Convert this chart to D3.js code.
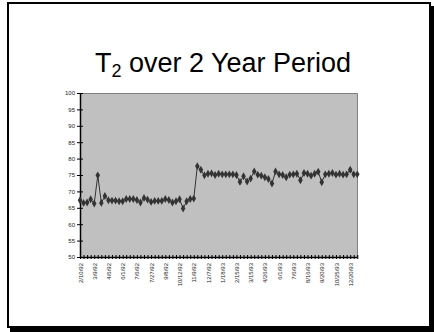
<!DOCTYPE html>
<html>
<head>
<meta charset="utf-8">
<script src="https://cdn.jsdelivr.net/npm/d3@7"></script>
<style>
  body { margin: 0; background: #fff; }
  svg { display: block; }
  .title { font-family: "Liberation Sans", Arial, sans-serif; fill: #000; }
  .tick text { font-family: "Liberation Sans", Arial, sans-serif; font-size: 6px; fill: #222; }
</style>
</head>
<body>
<svg width="434" height="332"></svg>
<script>
// T2 readings, one per sampling date
var values = [
  67.3, 66.5, 66.6, 67.6, 66.3, 74.9, 66.5, 68.6, 67.3, 67.2,
  67.2, 67.0, 67.0, 67.7, 67.7, 67.7, 67.4, 66.6, 68.0, 67.5,
  66.8, 67.1, 67.1, 67.1, 67.7, 67.4, 66.6, 67.0, 67.6, 64.8,
  67.0, 67.7, 67.8, 77.7, 76.6, 74.9, 75.4, 75.5, 75.0, 75.4,
  75.2, 75.2, 75.2, 75.2, 75.0, 72.9, 74.6, 73.0, 73.9, 76.1,
  75.1, 74.8, 74.3, 73.8, 72.4, 76.1, 75.2, 75.0, 74.3, 75.1,
  75.2, 75.4, 73.4, 75.6, 75.4, 74.8, 75.4, 76.0, 72.8, 75.2,
  75.4, 75.6, 75.1, 75.4, 75.1, 75.2, 76.6, 75.2, 75.2
];

// every 4th sampling date is labelled
var tickLabels = [
  '2/10/92', '3/9/92', '4/6/92', '6/1/92', '7/6/92', '7/27/92', '9/8/92',
  '10/12/92', '11/9/92', '12/7/92', '1/18/93', '2/15/93', '3/15/93',
  '4/26/93', '6/1/93', '7/6/93', '8/16/93', '9/20/93', '10/25/93', '12/20/93'
];
var labelStep = 4;

var yTicks = [50, 55, 60, 65, 70, 75, 80, 85, 90, 95, 100];

var svg = d3.select( 'svg' ),
    plot = { left: 80, right: 358, top: 93, bottom: 257 };

// slide frame with its shadow
svg.append( 'rect' )
  .attr( 'x', 10 ).attr( 'y', 6 )
  .attr( 'width', 424 ).attr( 'height', 326 )
  .attr( 'fill', '#000' );
svg.append( 'rect' )
  .attr( 'x', 8 ).attr( 'y', 3 )
  .attr( 'width', 422 ).attr( 'height', 324 )
  .attr( 'fill', '#fff' )
  .attr( 'stroke', '#000' )
  .attr( 'stroke-width', 2 );

// title
var title = svg.append( 'text' )
  .attr( 'class', 'title' )
  .attr( 'x', 223 ).attr( 'y', 72 )
  .attr( 'text-anchor', 'middle' )
  .attr( 'font-size', 27 );
title.append( 'tspan' ).text( 'T' );
title.append( 'tspan' ).attr( 'font-size', 18 ).attr( 'dy', 5 ).text( '2' );
title.append( 'tspan' ).attr( 'dy', -5 ).text( ' over 2 Year Period' );

var x = d3.scaleLinear()
  .domain( [ 0, values.length - 1 ] )
  .range( [ plot.left, plot.right - 0.7 ] );

var y = d3.scaleLinear()
  .domain( [ 50, 100 ] )
  .range( [ plot.bottom, plot.top ] );

// plot area
svg.append( 'rect' )
  .attr( 'x', plot.left ).attr( 'y', plot.top )
  .attr( 'width', plot.right - plot.left )
  .attr( 'height', plot.bottom - plot.top )
  .attr( 'fill', '#c0c0c0' );
svg.append( 'path' )
  .attr( 'd', 'M' + plot.left + ',' + ( plot.top + 0.5 ) + 'H' + ( plot.right - 0.5 ) + 'V' + plot.bottom )
  .attr( 'fill', 'none' )
  .attr( 'stroke', '#808080' );

// y axis
var yAxis = d3.axisLeft( y )
  .tickValues( yTicks )
  .tickSizeInner( 3 )
  .tickSizeOuter( 0 )
  .tickPadding( 2 );
var gy = svg.append( 'g' )
  .attr( 'transform', 'translate(' + plot.left + ',0)' )
  .call( yAxis );
gy.select( '.domain' ).attr( 'stroke', '#000' ).attr( 'stroke-width', 1.5 );
gy.selectAll( '.tick line' ).attr( 'x2', 3 ).attr( 'x1', -3 ).attr( 'stroke', '#000' );

// x axis: a tick on every sample, label on every 4th
var xAxis = d3.axisBottom( x )
  .tickValues( d3.range( values.length ) )
  .tickSizeInner( 3 )
  .tickSizeOuter( 0 )
  .tickFormat( function( d ) {
    return d % labelStep === 0 ? tickLabels[ d / labelStep ] : '';
  } );
var gx = svg.append( 'g' )
  .attr( 'transform', 'translate(0,' + plot.bottom + ')' )
  .call( xAxis );
gx.select( '.domain' ).attr( 'stroke', '#000' ).attr( 'stroke-width', 1.5 );
gx.selectAll( '.tick line' ).attr( 'y1', -2 ).attr( 'y2', 2 ).attr( 'stroke', '#000' );
gx.selectAll( '.tick text' )
  .attr( 'transform', 'rotate(-90)' )
  .attr( 'text-anchor', 'end' )
  .attr( 'x', -6 )
  .attr( 'y', 0 )
  .attr( 'dy', '0.35em' );

// series
var line = d3.line()
  .x( function( d, i ) { return x( i ); } )
  .y( function( d ) { return y( d ); } );

svg.append( 'path' )
  .datum( values )
  .attr( 'd', line )
  .attr( 'fill', 'none' )
  .attr( 'stroke', '#333' )
  .attr( 'stroke-width', 1 );

svg.selectAll( 'path.marker' )
  .data( values )
  .enter()
  .append( 'path' )
  .attr( 'class', 'marker' )
  .attr( 'd', d3.symbol( d3.symbolDiamond, 18 ) )
  .attr( 'transform', function( d, i ) { return 'translate(' + x( i ) + ',' + y( d ) + ')'; } )
  .attr( 'fill', '#333' );
</script>
</body>
</html>
